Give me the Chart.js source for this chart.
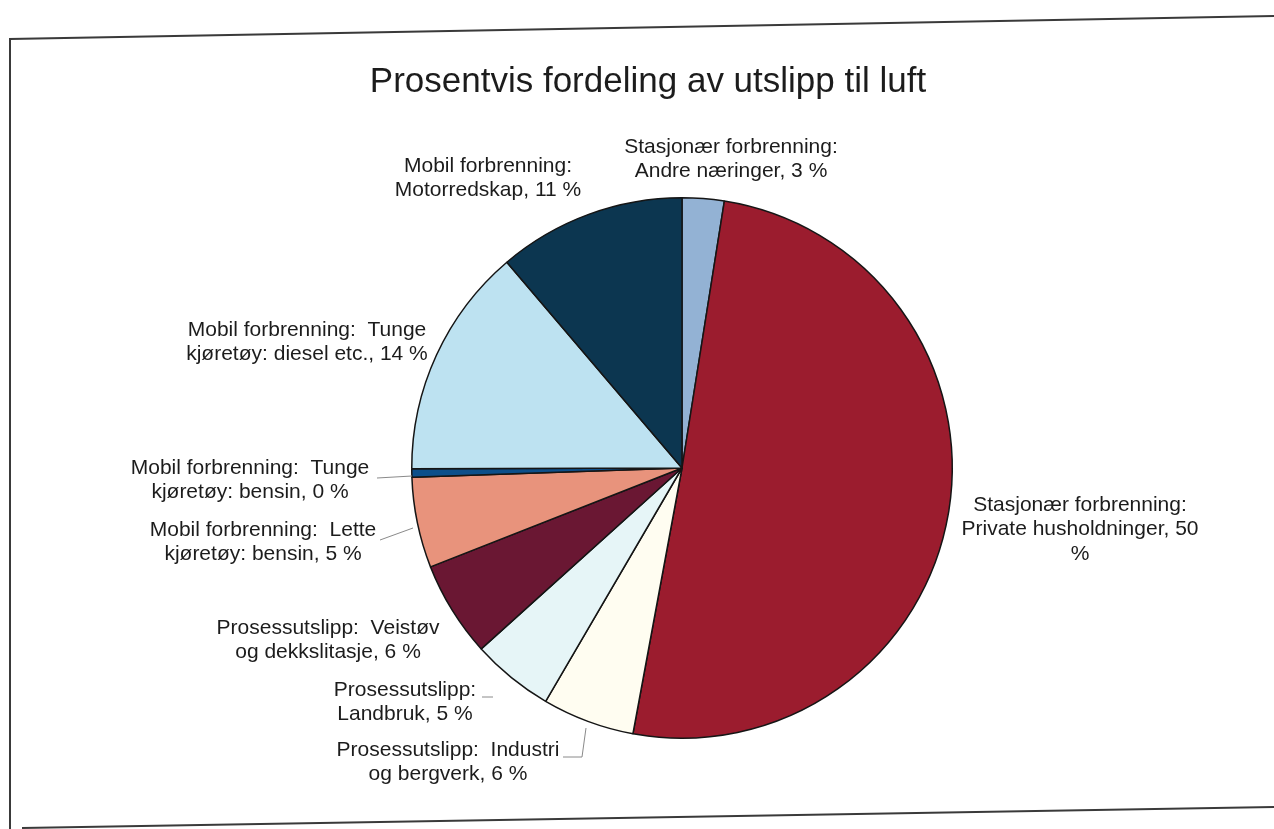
<!DOCTYPE html>
<html>
<head>
<meta charset="utf-8">
<script src="https://cdn.jsdelivr.net/npm/chart.js@4.4.0/dist/chart.umd.min.js"></script>
<style>
  html, body { margin: 0; padding: 0; background: #ffffff; }
  #wrap { width: 1274px; height: 829px; position: relative; }
</style>
</head>
<body>
<div id="wrap"><canvas id="utslippChart" width="1274" height="829"></canvas></div>
<script>
'use strict';

// categories, clockwise from 12 o'clock
var kategorier = [
    'Stasjonær forbrenning: Andre næringer',
    'Stasjonær forbrenning: Private husholdninger',
    'Prosessutslipp: Industri og bergverk',
    'Prosessutslipp: Landbruk',
    'Prosessutslipp: Veistøv og dekkslitasje',
    'Mobil forbrenning: Lette kjøretøy: bensin',
    'Mobil forbrenning: Tunge kjøretøy: bensin',
    'Mobil forbrenning: Tunge kjøretøy: diesel etc.',
    'Mobil forbrenning: Motorredskap'
];
var andel = [2.5, 50.3, 5.5, 4.9, 5.7, 5.4, 0.5, 13.8, 11.2];
var prosentTekst = ['3 %', '50 %', '6 %', '5 %', '6 %', '5 %', '0 %', '14 %', '11 %'];

var farger = ['#93b2d4', '#9b1c2e', '#fffdf1', '#e6f5f7', '#6a1733',
              '#e8937c', '#0d4f8a', '#bde2f1', '#0c3650'];

// label lines as printed on the chart
var etiketter = [
    { linjer: ['Stasjonær forbrenning:', 'Andre næringer, ' + prosentTekst[0]], x: 731, y: 147 },
    { linjer: ['Stasjonær forbrenning:', 'Private husholdninger, 50', '%'], x: 1080, y: 505 },
    { linjer: ['Prosessutslipp:  Industri', 'og bergverk, ' + prosentTekst[2]], x: 448, y: 750 },
    { linjer: ['Prosessutslipp:', 'Landbruk, ' + prosentTekst[3]], x: 405, y: 690 },
    { linjer: ['Prosessutslipp:  Veistøv', 'og dekkslitasje, ' + prosentTekst[4]], x: 328, y: 628 },
    { linjer: ['Mobil forbrenning:  Lette', 'kjøretøy: bensin, ' + prosentTekst[5]], x: 263, y: 530 },
    { linjer: ['Mobil forbrenning:  Tunge', 'kjøretøy: bensin, ' + prosentTekst[6]], x: 250, y: 468 },
    { linjer: ['Mobil forbrenning:  Tunge', 'kjøretøy: diesel etc., ' + prosentTekst[7]], x: 307, y: 330 },
    { linjer: ['Mobil forbrenning:', 'Motorredskap, ' + prosentTekst[8]], x: 488, y: 166 }
];

var tittel = 'Prosentvis fordeling av utslipp til luft';

var rammeOgTekst = {
    id: 'rammeOgTekst',
    beforeDraw: function (chart) {
        var ctx = chart.ctx;
        ctx.save();
        ctx.fillStyle = '#ffffff';
        ctx.fillRect(0, 0, chart.width, chart.height);
        ctx.restore();
    },
    afterDraw: function (chart) {
        var ctx = chart.ctx;
        ctx.save();

        // scanned frame
        ctx.strokeStyle = '#3a3a3a';
        ctx.lineWidth = 2;
        ctx.beginPath();
        ctx.moveTo(1274, 16);
        ctx.lineTo(10, 39);
        ctx.lineTo(10, 829);
        ctx.stroke();
        ctx.beginPath();
        ctx.moveTo(22, 828);
        ctx.lineTo(1274, 807);
        ctx.stroke();

        // title
        ctx.fillStyle = '#1c1c1c';
        ctx.font = '35px "Liberation Sans", Arial, sans-serif';
        ctx.textAlign = 'center';
        ctx.textBaseline = 'middle';
        ctx.fillText(tittel, 648, 82);

        // leader lines
        ctx.strokeStyle = '#8a8a8a';
        ctx.lineWidth = 1;
        ctx.beginPath();
        ctx.moveTo(377, 478); ctx.lineTo(412, 476);
        ctx.moveTo(380, 540); ctx.lineTo(413, 528);
        ctx.moveTo(482, 697); ctx.lineTo(493, 697);
        ctx.moveTo(563, 757); ctx.lineTo(582, 757); ctx.lineTo(586, 728);
        ctx.stroke();

        // slice labels
        ctx.fillStyle = '#1c1c1c';
        ctx.font = '21px "Liberation Sans", Arial, sans-serif';
        etiketter.forEach(function (e) {
            e.linjer.forEach(function (linje, i) {
                ctx.fillText(linje, e.x, e.y + i * 24.5);
            });
        });
        ctx.restore();
    }
};

var utslippChart = new Chart(document.getElementById('utslippChart'), {
    type: 'pie',
    data: {
        labels: kategorier,
        datasets: [{
            data: andel,
            backgroundColor: farger,
            borderColor: '#151515',
            borderWidth: 1.5
        }]
    },
    options: {
        responsive: false,
        animation: false,
        layout: { padding: { left: 411, right: 321, top: 197, bottom: 90 } },
        plugins: {
            legend: { display: false },
            tooltip: { enabled: false }
        }
    },
    plugins: [rammeOgTekst]
});
</script>
</body>
</html>
